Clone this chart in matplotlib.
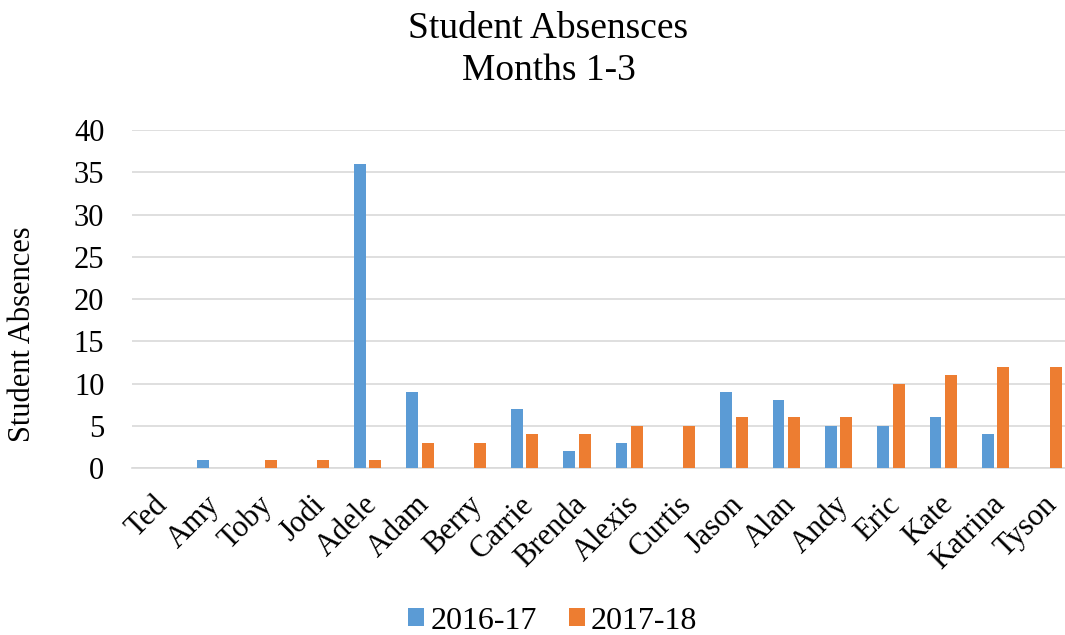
import numpy as np
import matplotlib.pyplot as plt
from matplotlib.transforms import ScaledTranslation

students = ['Ted', 'Amy', 'Toby', 'Jodi', 'Adele', 'Adam', 'Berry', 'Carrie', 'Brenda',
            'Alexis', 'Curtis', 'Jason', 'Alan', 'Andy', 'Eric', 'Kate', 'Katrina', 'Tyson']
y2016 = [0, 1, 0, 0, 36, 9, 0, 7, 2, 3, 0, 9, 8, 5, 5, 6, 4, 0]
y2017 = [0, 0, 1, 1, 1, 3, 3, 4, 4, 5, 5, 6, 6, 6, 10, 11, 12, 12]

plt.rcParams['font.family'] = ['Liberation Serif', 'DejaVu Serif']

fig = plt.figure(figsize=(10.65, 6.35), dpi=100)
# plot area runs a bit past the right edge, as in the reference crop
ax = fig.add_axes([0.124, 0.263, 0.8845, 0.532])

x = np.arange(len(students))
w = 0.225
ax.bar(x - 0.148, y2016, w, color='#5B9BD5', label='2016-17', zorder=3)
ax.bar(x + 0.148, y2017, w, color='#ED7D31', label='2017-18', zorder=3)

ax.set_xlim(-0.5, len(students) - 0.5)
ax.set_ylim(0, 40)
ax.set_yticks(range(0, 41, 5))
ax.yaxis.grid(True, color='#D9D9D9', linewidth=1.2, zorder=0)
for s in ['top', 'right', 'left']:
    ax.spines[s].set_visible(False)
ax.spines['bottom'].set_color('#D9D9D9')
ax.spines['bottom'].set_linewidth(1.2)
ax.tick_params(axis='both', length=0, labelsize=22, colors='black')
ax.tick_params(axis='y', pad=20)
ax.tick_params(axis='x', pad=16)
ax.set_xticks(x)
ax.set_xticklabels(students, rotation=45, ha='right', va='top', rotation_mode='anchor')
shift = ScaledTranslation(-5 / 100, 0, fig.dpi_scale_trans)
for lbl in ax.get_xticklabels():
    lbl.set_transform(lbl.get_transform() + shift)

fig.text(0.021, 0.474, 'Student Absences', rotation=90, ha='center', va='center', fontsize=22)

fig.text(0.515, 0.955, 'Student Absensces', ha='center', va='center', fontsize=27)
fig.text(0.515, 0.889, 'Months 1-3', ha='center', va='center', fontsize=27)

fig.legend(loc='center', bbox_to_anchor=(0.519, 0.022), ncol=2, frameon=False,
           fontsize=23, handlelength=0.5, handleheight=0.5, columnspacing=1.0,
           handletextpad=0.2, borderpad=0)

fig.savefig('out.png')
